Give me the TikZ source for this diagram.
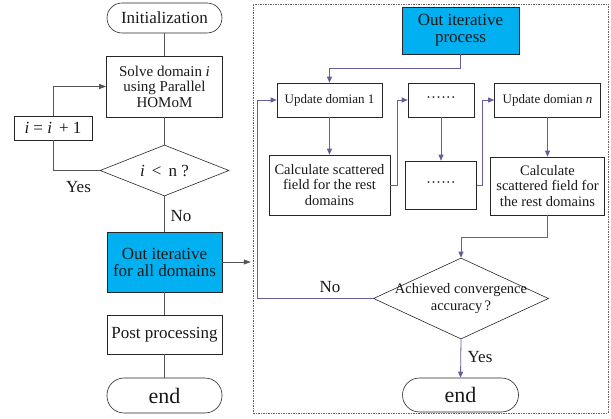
\documentclass[tikz,border=0pt]{standalone}
\usepackage{fontspec}
\setmainfont{Liberation Serif}
\usetikzlibrary{shapes.geometric,arrows.meta}
\definecolor{cblue}{HTML}{00B0F0}
\definecolor{cpur}{HTML}{6B5B9A}
\definecolor{cgray}{HTML}{555555}
\newcommand{\fsz}[1]{\fontsize{#1}{#1}\selectfont}
\begin{document}
\begin{tikzpicture}[x=1pt,y=-1pt,
  box/.style={draw=black!85, line width=0.6pt, rectangle, inner sep=0pt, align=center, text=black!90},
  term/.style={box, rounded corners=15pt},
  bluebox/.style={box, fill=cblue},
  dia/.style={draw=black!85, line width=0.6pt, diamond, inner sep=0pt},
  lc/.style={draw=cgray, line width=0.7pt},
  pc/.style={draw=cpur, line width=0.8pt},
  tipl/.style={-{Triangle[length=7pt,width=5pt]}},
  tipp/.style={-{Triangle[length=6pt,width=5pt]}},
  lab/.style={text=black!90, inner sep=0pt}
]
\useasboundingbox (0,0) rectangle (611,419);
% frame
\node[draw=black!60, line width=0.5pt, dash pattern=on 1.5pt off 1pt, minimum width=355pt, minimum height=409pt, inner sep=0pt] (frame) at (430.5,208.5) {};
% left column
\node[term, minimum width=115pt, minimum height=30pt, font=\fsz{17}] (init) at (164.5,18) {Initialization};
\node[box, minimum width=116pt, minimum height=61pt, font=\fsz{15}] (solve) at (164.5,86.5) {Solve domain \textit{i}\\[0.5pt]using Parallel\\[0.5pt]HOMoM};
\node[box, minimum width=78pt, minimum height=24pt, font=\fsz{17}] (inc) at (53,128) {\textit{i} = \textit{i}\, + 1};
\node[dia, minimum width=129pt, minimum height=51pt] (d1) at (164.5,170.5) {};
\node[lab, font=\fsz{17}] (d1t) at (d1) {\textit{i} \,\textless\, n ?};
\node[bluebox, minimum width=115pt, minimum height=60pt, font=\fsz{17}] (outl) at (164.5,262) {Out iterative\\for all domains};
\node[box, minimum width=115pt, minimum height=39pt, font=\fsz{17}] (post) at (164.5,334.5) {Post processing};
\node[term, rounded corners=17pt, minimum width=115pt, minimum height=35pt, font=\fsz{22}] (endl) at (164.5,395.5) {end};
\node[lab, font=\fsz{17}] (yes1) at (78.5,187) {Yes};
\node[lab, font=\fsz{17}] (no1) at (181,216) {No};
% right part
\node[bluebox, minimum width=117pt, minimum height=47pt, font=\fsz{17}] (oip) at (460.5,30.5) {Out iterative\\process};
\node[box, minimum width=105pt, minimum height=34pt, font=\fsz{13}] (u1) at (329.5,100) {Update domian 1};
\node[box, minimum width=121pt, minimum height=60pt, font=\fsz{14.5}] (c1) at (329.5,185) {Calculate scattered\\[1pt]field for the rest\\[1pt]domains};
\node[box, minimum width=66pt, minimum height=34pt, font=\fsz{15}] (dt1) at (441,100) {······};
\node[box, minimum width=71pt, minimum height=48pt, font=\fsz{15}] (dt2) at (441,185) {······};
\node[box, minimum width=106pt, minimum height=34pt, font=\fsz{13}] (un) at (547.5,100) {Update domian \textit{n}};
\node[box, minimum width=114pt, minimum height=58pt, font=\fsz{14.5}] (cn) at (547.5,186) {Calculate\\[1pt]scattered field for\\[1pt]the rest domains};
\node[dia, minimum width=175pt, minimum height=81pt] (d2) at (461,298.5) {};
\node[lab, align=center, font=\fsz{14.5}] (d2t) at (d2) {Achieved convergence\\[2pt]accuracy\,?};
\node[term, rounded corners=17pt, minimum width=116pt, minimum height=34pt, font=\fsz{22}] (endr) at (460.5,395) {end};
\node[lab, font=\fsz{17}] (no2) at (330,287) {No};
\node[lab, font=\fsz{17}] (yes2) at (480,357) {Yes};
% left connectors
\draw[lc] (init.south) -- (solve.north);
\draw[lc] (solve.south) -- (d1.north);
\draw[lc] (d1.west) -| (inc.south);
\draw[lc, tipl] (inc.north) |- (solve.west);
\draw[lc] (d1.south) -- (outl.north);
\draw[lc, tipl] (outl.east) -- ([xshift=-2pt]outl.east -| frame.west);
\draw[lc] (outl.south) -- (post.north);
\draw[lc] (post.south) -- (endl.north);
% right connectors
\draw[pc, tipp] (oip.south) -- ++(0,14) -| (u1.north);
\draw[pc, tipp] (u1.south) -- (c1.north);
\draw[pc, tipp] (c1.east) -- ++(7,0) |- (dt1.west);
\draw[pc, tipp] (dt1.south) -- (dt2.north);
\draw[pc, tipp] (dt2.east) -- ++(6,0) |- (un.west);
\draw[pc, tipp] (un.south) -- (cn.north);
\draw[pc, tipp] (cn.south) -- ++(0,22) -| (d2.north);
\draw[pc, tipp] (d2.west) -- ++(-116,0) |- (u1.west);
\draw[pc, tipp] (d2.south) -- (endr.north);
\end{tikzpicture}
\end{document}
